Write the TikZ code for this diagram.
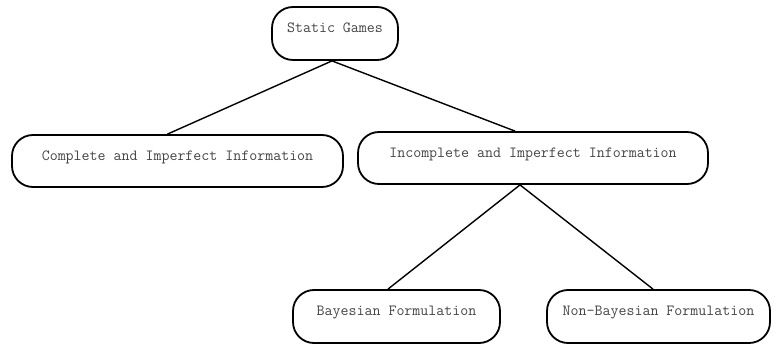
\documentclass[tikz,border=0pt]{standalone}
\usepackage{fontspec}
\usetikzlibrary{calc}
\definecolor{txtgrey}{HTML}{454545}
\tikzset{
  gbox/.style={draw=black, line width=1.8pt, rounded corners=21pt, fill=white,
    text=txtgrey, font=\ttfamily\fontsize{15.5}{16}\selectfont,
    inner xsep=2pt, inner ysep=2pt, text height=9pt, text depth=10.5pt,
    anchor=center},
  link/.style={draw=black, line width=1.4pt}
}
\begin{document}
\begin{tikzpicture}[x=1pt,y=-1pt]
\useasboundingbox (0,0) rectangle (778,347);
\node[gbox, minimum width=126pt, minimum height=53pt] (sg) at (335,33.5) {Static Games};
\node[gbox, minimum width=331pt, minimum height=52pt] (cii) at (177.5,161) {Complete and Imperfect Information};
\node[gbox, minimum width=350pt, minimum height=52pt] (iii) at (533,158) {Incomplete and Imperfect Information};
\node[gbox, minimum width=207pt, minimum height=53pt] (bf) at (396.5,316.5) {Bayesian Formulation};
\node[gbox, minimum width=223pt, minimum height=53pt] (nbf) at (658.5,316.5) {Non-Bayesian Formulation};
\draw[link] ([xshift=-3pt]sg.south) -- ([xshift=-10pt]cii.north);
\draw[link] ([xshift=-3pt]sg.south) -- ([xshift=-18pt]iii.north);
\draw[link] ([xshift=-13pt]iii.south) -- ([xshift=-8.5pt]bf.north);
\draw[link] ([xshift=-13pt]iii.south) -- ([xshift=-5.5pt]nbf.north);
\end{tikzpicture}
\end{document}
